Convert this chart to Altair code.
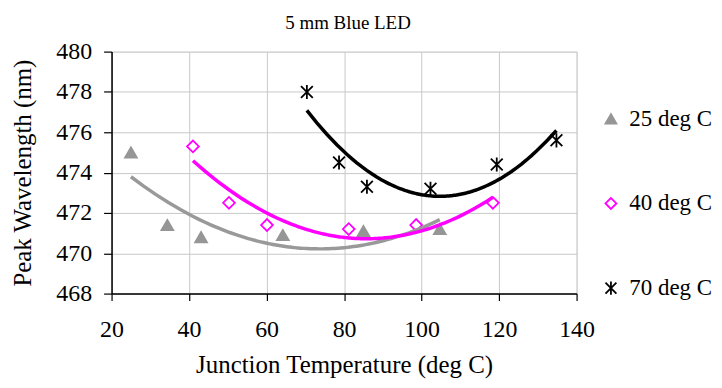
import altair as alt
import pandas as pd

series_names = ["25 deg C", "40 deg C", "70 deg C"]

t25 = [25.0, 34.4, 43.1, 64.2, 85.0, 104.7]
w25 = [475.0, 471.4, 470.8, 470.9, 471.1, 471.2]

t40 = [41.0, 50.3, 60.1, 81.2, 98.6, 118.4]
w40 = [475.3, 472.5, 471.4, 471.2, 471.4, 472.5]

t70 = [70.4, 78.7, 85.9, 102.3, 119.4, 134.8]
w70 = [478.0, 474.5, 473.3, 473.2, 474.4, 475.6]

x_ticks = [20, 40, 60, 80, 100, 120, 140]
y_ticks = [468, 470, 472, 474, 476, 478, 480]

rows = []
for name, ts, ws in zip(series_names, [t25, t40, t70], [w25, w40, w70]):
    for t, w in zip(ts, ws):
        rows.append({"series": name, "temp": t, "wl": w})
df = pd.DataFrame(rows)

FONT = "Liberation Serif"
line_colors = ["#999999", "#FF00FF", "#000000"]
stroke_colors = ["#969696", "#FF00FF", "#000000"]
fill_colors = ["#969696", "#FFFFFF", "#000000"]
star = "M-1,-1L1,1M-1,1L1,-1M0,-1.2L0,1.2"
shapes = ["triangle-up", "diamond", star]

axis_common = dict(labelFont=FONT, titleFont=FONT, labelFontSize=24, titleFontSize=25,
                   labelColor="black", titleColor="black", titleFontWeight="normal",
                   labelFlush=False, gridColor="#C8C8C8", gridWidth=1,
                   domainColor="black", domainWidth=1.5, tickColor="black", tickWidth=1.2)

xenc = alt.X("temp:Q", scale=alt.Scale(domain=[20, 140], nice=False),
             axis=alt.Axis(values=x_ticks, title="Junction Temperature (deg C)",
                           tickSize=7, labelPadding=17, titlePadding=11, **axis_common))
yenc = alt.Y("wl:Q", scale=alt.Scale(domain=[468, 480], nice=False, zero=False),
             axis=alt.Axis(values=y_ticks, title="Peak  Wavelength (nm)",
                           tickSize=8, labelPadding=12, titlePadding=20, **axis_common))

base = alt.Chart(df)

lines = base.transform_regression(
    "temp", "wl", groupby=["series"], method="poly", order=2
).mark_line(strokeWidth=3.5).encode(
    x=xenc, y=yenc,
    color=alt.Color("series:N", scale=alt.Scale(domain=series_names, range=line_colors), legend=None),
)

legend = alt.Legend(orient="none", legendX=490, legendY=56, labelFont=FONT, labelFontSize=23,
                    labelColor="black", rowPadding=61, symbolSize=120, symbolStrokeWidth=1.8,
                    labelOffset=7)

points = base.mark_point(filled=False, size=140, strokeWidth=1.8, opacity=1).encode(
    x=xenc, y=yenc,
    stroke=alt.Stroke("series:N", title=None,
                      scale=alt.Scale(domain=series_names, range=stroke_colors),
                      legend=legend),
    fill=alt.Fill("series:N", title=None,
                  scale=alt.Scale(domain=series_names, range=fill_colors), legend=legend),
    shape=alt.Shape("series:N", title=None,
                    scale=alt.Scale(domain=series_names, range=shapes), legend=legend),
)

chart = alt.layer(points, lines).properties(
    width=467, height=243,
    title=alt.TitleParams("5 mm Blue LED", font=FONT, fontSize=19, fontWeight="normal",
                          color="black", anchor="middle", offset=7, dx=4),
    autosize=alt.AutoSizeParams(type="none"),
    padding={"left": 104, "top": 43, "right": 138, "bottom": 93},
).configure_view(
    stroke="#808080", strokeWidth=1.5
).configure(
    font=FONT
)

chart.save("out.html", embed_options={"renderer": "svg", "actions": False})
